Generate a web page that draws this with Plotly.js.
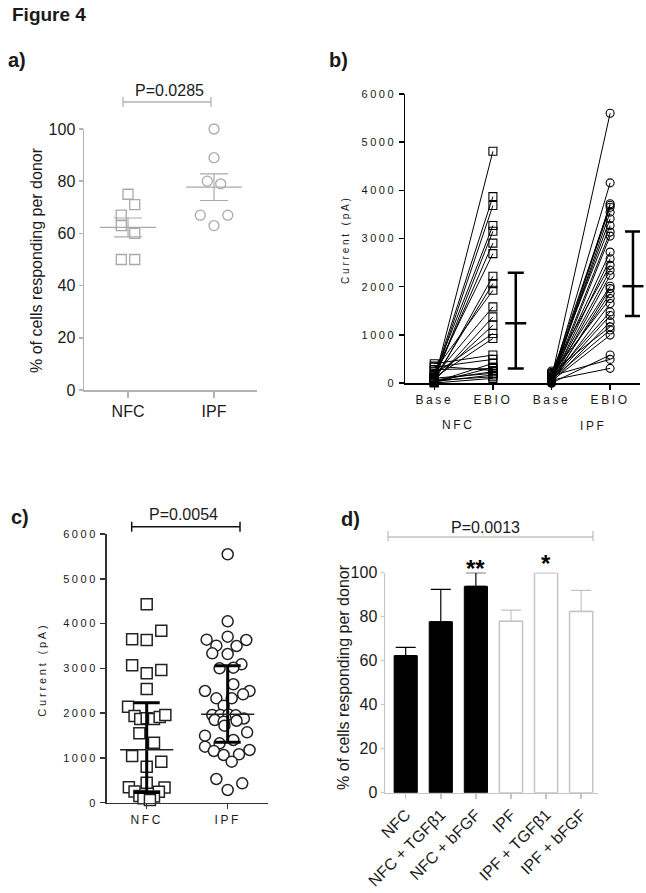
<!DOCTYPE html>
<html>
<head>
<meta charset="utf-8">
<script src="https://cdn.plot.ly/plotly-3.0.1.min.js"></script>
<style>html,body{margin:0;padding:0;background:#fff;}#chart{width:646px;height:893px;}</style>
</head>
<body>
<div id="chart"></div>
<script>
// ---------- DATA ----------
// Panel a: % of cells responding per donor
const aCategories = ['NFC', 'IPF'];
const aNFC = [75, 71, 67, 63, 60, 50, 50];
const aNFCJitter = [0, 0.078, -0.078, -0.078, 0.078, -0.078, 0.078];
const aIPF = [100, 89, 80, 79, 67, 67, 63];
const aIPFJitter = [0, 0, -0.078, 0.078, -0.16, 0.16, 0];
const aMean = [62.3, 77.7];
const aSEM = [3.6, 5.1];
const aPText = 'P=0.0285';

// Panel b: current Base -> EBIO (pA)
const bTickLabels = ['Base', 'EBIO', 'Base', 'EBIO'];
const bGroups = ['NFC', 'IPF'];
const currentTicks = [0, 1000, 2000, 3000, 4000, 5000, 6000];
const bNFCBase = [50, 120, 80, 150, 60, 100, 200, 30, 90, 250, 140, 40, 70, 180, 110, 400, 330, 20, 10, 60, 30, 0, 280, 350, 100, 50];
const bNFCEbio = [4810, 3870, 3685, 3270, 3150, 2905, 2685, 2215, 2064, 1925, 1580, 1373, 1200, 1029, 925, 580, 490, 408, 325, 235, 165, 97, 300, 260, 200, 130];
const bIPFBase = [100, 50, 0, 150, 80, 30, 120, 200, 60, 10, 90, 40, 250, 70, 20, 130, 0, 60, 180, 30, 100, 50, 10, 220, 80, 40, 0, 150, 60];
const bIPFEbio = [5600, 4155, 3720, 3690, 3650, 3547, 3410, 3270, 3133, 3050, 2718, 2580, 2443, 2340, 2236, 2008, 1960, 1857, 1753, 1650, 1476, 1400, 1269, 1166, 1100, 994, 580, 490, 304];
const bMean = [1240, 2010];
const bUpper = [2290, 3147];
const bLower = [300, 1393];

// Panel c: current per cell (pA)
const cCategories = ['NFC', 'IPF'];
const cNFC = [4430, 3841, 3649, 3633, 3068, 2963, 2890, 2539, 2144, 1936, 1870, 1885, 1870, 1915, 1958, 1550, 1340, 1043, 916, 804, 447, 344, 340, 250, 246, 150, 140, 98, 60];
const cNFCJitter = [0, 0.18, -0.18, 0, -0.18, 0.18, 0, 0, -0.23, -0.15, -0.08, 0, 0.09, 0.16, 0.23, -0.09, 0.09, -0.18, 0.18, 0, 0, -0.22, 0.22, -0.15, 0.15, -0.09, 0.09, -0.04, 0.04];
const cIPF = [5547, 4050, 3707, 3640, 3633, 3506, 3499, 3336, 3320, 3089, 3000, 3015, 2644, 2494, 2494, 2420, 2331, 2331, 2166, 1958, 1960, 1970, 1950, 1880, 1847, 1809, 1830, 1720, 1572, 1496, 1400, 1326, 1251, 1155, 1065, 1081, 1177, 916, 529, 433, 284];
const cIPFJitter = [0, 0, 0, -0.26, 0.23, -0.14, 0.11, -0.19, 0, 0.17, -0.1, 0.07, 0.07, -0.28, 0.27, 0.19, -0.14, 0.05, -0.05, -0.19, -0.09, 0.01, 0.1, 0.2, -0.16, -0.05, 0.11, -0.04, 0.24, -0.28, 0.07, -0.1, -0.28, -0.17, -0.05, 0.14, 0.27, 0.05, -0.14, 0.18, 0];
const cMedian = [1180, 1973];
const cQ1 = [230, 1348];
const cQ3 = [2233, 3060];
const cPText = 'P=0.0054';

// Panel d: % responding per donor with treatments
const dCategories = ['NFC', 'NFC + TGFβ1', 'NFC + bFGF', 'IPF', 'IPF + TGFβ1', 'IPF + bFGF'];
const dNFC = [62.3, 77.7, 93.8];
const dNFCErr = [3.8, 14.7, 6.2];
const dIPF = [77.9, 100, 82.4];
const dIPFErr = [5.1, 0, 9.6];
const dStars = ['', '', '**', '', '*', ''];
const dPText = 'P=0.0013';

// ---------- LAYOUT HELPERS ----------
const W = 646, H = 893;
const px = x => x / W;
const py = y => 1 - y / H;
const FONT = 'Arial, "Liberation Sans", sans-serif';
const DARK = '#1a1a1a';
const GRAY = '#b3b3b3';
const sp = (t, ls) => '<span style="letter-spacing:' + ls + 'px">' + t + '</span>';

function pairs(base, ebio, x0) {
  const xs = [], ys = [];
  base.forEach((b, i) => { xs.push(x0, x0 + 1, null); ys.push(b, ebio[i], null); });
  return {xs, ys};
}
const pN = pairs(bNFCBase, bNFCEbio, 0);
const pI = pairs(bIPFBase, bIPFEbio, 2);

const traces = [
  // Panel a
  {x: aNFC.map((v, i) => 0 + aNFCJitter[i]), y: aNFC, xaxis: 'x', yaxis: 'y', type: 'scatter', mode: 'markers', cliponaxis: false,
   marker: {symbol: 'square-open', size: 10, color: '#a9a9a9', line: {width: 1.3, color: '#a9a9a9'}}},
  {x: aIPF.map((v, i) => 1 + aIPFJitter[i]), y: aIPF, xaxis: 'x', yaxis: 'y', type: 'scatter', mode: 'markers', cliponaxis: false,
   marker: {symbol: 'circle-open', size: 10, color: '#a9a9a9', line: {width: 1.3, color: '#a9a9a9'}}},
  {x: [0, 1], y: aMean, xaxis: 'x', yaxis: 'y', type: 'scatter', mode: 'markers', cliponaxis: false,
   marker: {symbol: 'line-ew', size: 40, color: '#a9a9a9', line: {width: 1.2, color: '#a9a9a9'}},
   error_y: {type: 'data', array: aSEM, width: 14, thickness: 1.2, color: '#a9a9a9'}},
  // Panel b
  {x: pN.xs, y: pN.ys, xaxis: 'x2', yaxis: 'y2', type: 'scatter', mode: 'lines+markers', connectgaps: false, cliponaxis: false,
   line: {color: '#000', width: 1},
   marker: {symbol: 'square-open', size: 8, color: '#000', line: {width: 1.1, color: '#000'}}},
  {x: pI.xs, y: pI.ys, xaxis: 'x2', yaxis: 'y2', type: 'scatter', mode: 'lines+markers', connectgaps: false, cliponaxis: false,
   line: {color: '#000', width: 1},
   marker: {symbol: 'circle-open', size: 8, color: '#000', line: {width: 1.1, color: '#000'}}},
  {x: [1.39, 3.39], y: bMean, xaxis: 'x2', yaxis: 'y2', type: 'scatter', mode: 'markers', cliponaxis: false,
   marker: {symbol: 'line-ew', size: 15, color: '#000', line: {width: 2.5, color: '#000'}},
   error_y: {type: 'data', symmetric: false, array: bUpper.map((u, i) => u - bMean[i]),
             arrayminus: bLower.map((l, i) => bMean[i] - l), width: 8, thickness: 2.5, color: '#000'}},
  // Panel c
  {x: cNFC.map((v, i) => 0 + cNFCJitter[i]), y: cNFC, xaxis: 'x3', yaxis: 'y3', type: 'scatter', mode: 'markers', cliponaxis: false,
   marker: {symbol: 'square', size: 11, color: '#fff', line: {width: 1.5, color: '#222'}}},
  {x: cIPF.map((v, i) => 1 + cIPFJitter[i]), y: cIPF, xaxis: 'x3', yaxis: 'y3', type: 'scatter', mode: 'markers', cliponaxis: false,
   marker: {symbol: 'circle', size: 11, color: '#fff', line: {width: 1.5, color: '#222'}}},
  {x: [0, 1], y: cMedian, xaxis: 'x3', yaxis: 'y3', type: 'scatter', mode: 'markers', cliponaxis: false,
   marker: {symbol: 'line-ew', size: 38, color: '#222', line: {width: 1.5, color: '#222'}},
   error_y: {type: 'data', symmetric: false, array: cQ3.map((q, i) => q - cMedian[i]),
             arrayminus: cQ1.map((q, i) => cMedian[i] - q), width: 13, thickness: 3, color: '#000'}},
  // Panel d
  {x: [0, 1, 2], y: dNFC, xaxis: 'x4', yaxis: 'y4', type: 'bar', width: 0.66, cliponaxis: false,
   marker: {color: '#000', line: {color: '#000', width: 1}},
   error_y: {type: 'data', symmetric: false, array: dNFCErr, arrayminus: [0, 0, 0], width: 10, thickness: 1.2, color: '#000'}},
  {x: [3, 4, 5], y: dIPF, xaxis: 'x4', yaxis: 'y4', type: 'bar', width: 0.66, cliponaxis: false,
   marker: {color: '#fff', line: {color: '#c4c4c4', width: 1.5}},
   error_y: {type: 'data', symmetric: false, array: dIPFErr, arrayminus: [0, 0, 0], width: 10, thickness: 1.2, color: '#c4c4c4'}}
];

function axisBase(color, size) {
  return {showline: true, linecolor: color, linewidth: 1.5, ticks: 'outside', tickcolor: color, tickwidth: 1.5,
          ticklen: 6, showgrid: false, zeroline: false, automargin: false, fixedrange: true,
          tickfont: {family: FONT, size: size, color: DARK}};
}

const layout = {
  width: W, height: H, margin: {l: 0, r: 0, t: 0, b: 0},
  paper_bgcolor: '#fff', plot_bgcolor: 'rgba(0,0,0,0)', showlegend: false, barmode: 'overlay',
  font: {family: FONT, color: DARK},
  xaxis: Object.assign(axisBase(GRAY, 16), {domain: [px(84), px(257)], range: [-0.512, 1.5], anchor: 'y',
    tickmode: 'array', tickvals: [0, 1], ticktext: aCategories}),
  yaxis: Object.assign(axisBase(GRAY, 16), {domain: [py(390), py(129)], range: [0, 100], dtick: 20, anchor: 'x', ticklen: 4}),
  xaxis2: Object.assign(axisBase('#000', 12), {domain: [px(405), px(640)], range: [-0.5, 3.51], anchor: 'y2',
    tickmode: 'array', tickvals: [0, 1, 2, 3], ticktext: bTickLabels.map(t => sp(t, 2.6)), ticklen: 5}),
  yaxis2: Object.assign(axisBase('#000', 11), {domain: [py(383), py(94)], range: [0, 6000], anchor: 'x2', ticklen: 5,
    tickmode: 'array', tickvals: currentTicks, ticktext: currentTicks.map(v => sp(String(v), 2.6))}),
  xaxis3: Object.assign(axisBase('#333', 12), {domain: [px(106.7), px(268)], range: [-0.494, 1.498], anchor: 'y3',
    tickmode: 'array', tickvals: [0, 1], ticktext: cCategories.map(t => sp(t, 2.6)), ticklen: 5}),
  yaxis3: Object.assign(axisBase('#333', 11), {domain: [py(802.7), py(534)], range: [0, 6000], anchor: 'x3', ticklen: 5,
    tickmode: 'array', tickvals: currentTicks, ticktext: currentTicks.map(v => sp(String(v), 2.6))}),
  xaxis4: Object.assign(axisBase('#c4c4c4', 16), {domain: [px(385), px(598)], range: [-0.59, 5.48], anchor: 'y4',
    tickmode: 'array', tickvals: [0, 1, 2, 3, 4, 5], ticktext: dCategories, tickangle: -45, ticklen: 5}),
  yaxis4: Object.assign(axisBase('#c4c4c4', 16), {domain: [py(792.7), py(572.7)], range: [0, 100], dtick: 20, anchor: 'x4', ticklen: 3}),
  shapes: [],
  annotations: []
};

function bracket(x0, x1, y, up, down, color, width) {
  const l = {color: color, width: width};
  layout.shapes.push({type: 'line', xref: 'paper', yref: 'paper', x0: px(x0), x1: px(x1), y0: py(y), y1: py(y), line: l});
  layout.shapes.push({type: 'line', xref: 'paper', yref: 'paper', x0: px(x0), x1: px(x0), y0: py(y - up), y1: py(y + down), line: l});
  layout.shapes.push({type: 'line', xref: 'paper', yref: 'paper', x0: px(x1), x1: px(x1), y0: py(y - up), y1: py(y + down), line: l});
}
bracket(123, 211, 102, 5, 5, GRAY, 1.3);
bracket(131.7, 240, 526.7, 5, 5, '#111', 1.5);
bracket(388, 593, 537, 6, 4, '#c0c0c0', 1.3);

function ann(text, x, y, size, opts) {
  layout.annotations.push(Object.assign({text: text, xref: 'paper', yref: 'paper', x: px(x), y: py(y),
    xanchor: 'center', yanchor: 'middle', showarrow: false, font: {family: FONT, size: size, color: DARK}}, opts || {}));
}
ann('<b>Figure 4</b>', 10, 15, 19, {xanchor: 'left'});
ann('<b>a)</b>', 6, 60, 20, {xanchor: 'left'});
ann('<b>b)</b>', 327, 60, 20, {xanchor: 'left'});
ann('<b>c)</b>', 9, 517, 20, {xanchor: 'left'});
ann('<b>d)</b>', 339, 519, 20, {xanchor: 'left'});
ann(aPText, 169, 91, 16);
ann(cPText, 183.3, 514, 16);
ann(dPText, 485.7, 527, 16);
ann('% of cells responding per donor', 37, 260, 16, {textangle: -90});
ann('% of cells responding per donor', 343, 677, 16, {textangle: -90});
ann(sp('Current (pA)', 2.8), 345, 239, 10, {textangle: -90});
ann(sp('Current (pA)', 2.8), 41.7, 670, 11, {textangle: -90});
ann(sp(bGroups[0], 2.6), 457.5, 425, 12);
ann(sp(bGroups[1], 2.6), 593, 426, 12);
// stars above bars (positioned from data through the x4/y4 axes)
dStars.forEach((s, i) => {
  if (!s) return;
  const top = i < 3 ? dNFC[i] + dNFCErr[i] : dIPF[i - 3] + dIPFErr[i - 3];
  layout.annotations.push({text: '<b>' + s + '</b>', xref: 'x4', yref: 'y4', x: i, y: top, yanchor: 'bottom',
    yshift: s.length > 1 ? -11 : -6, showarrow: false, font: {family: FONT, size: 24, color: '#000'}});
});

Plotly.newPlot(document.getElementById('chart'), traces, layout, {displayModeBar: false, staticPlot: true});
</script>
</body>
</html>
